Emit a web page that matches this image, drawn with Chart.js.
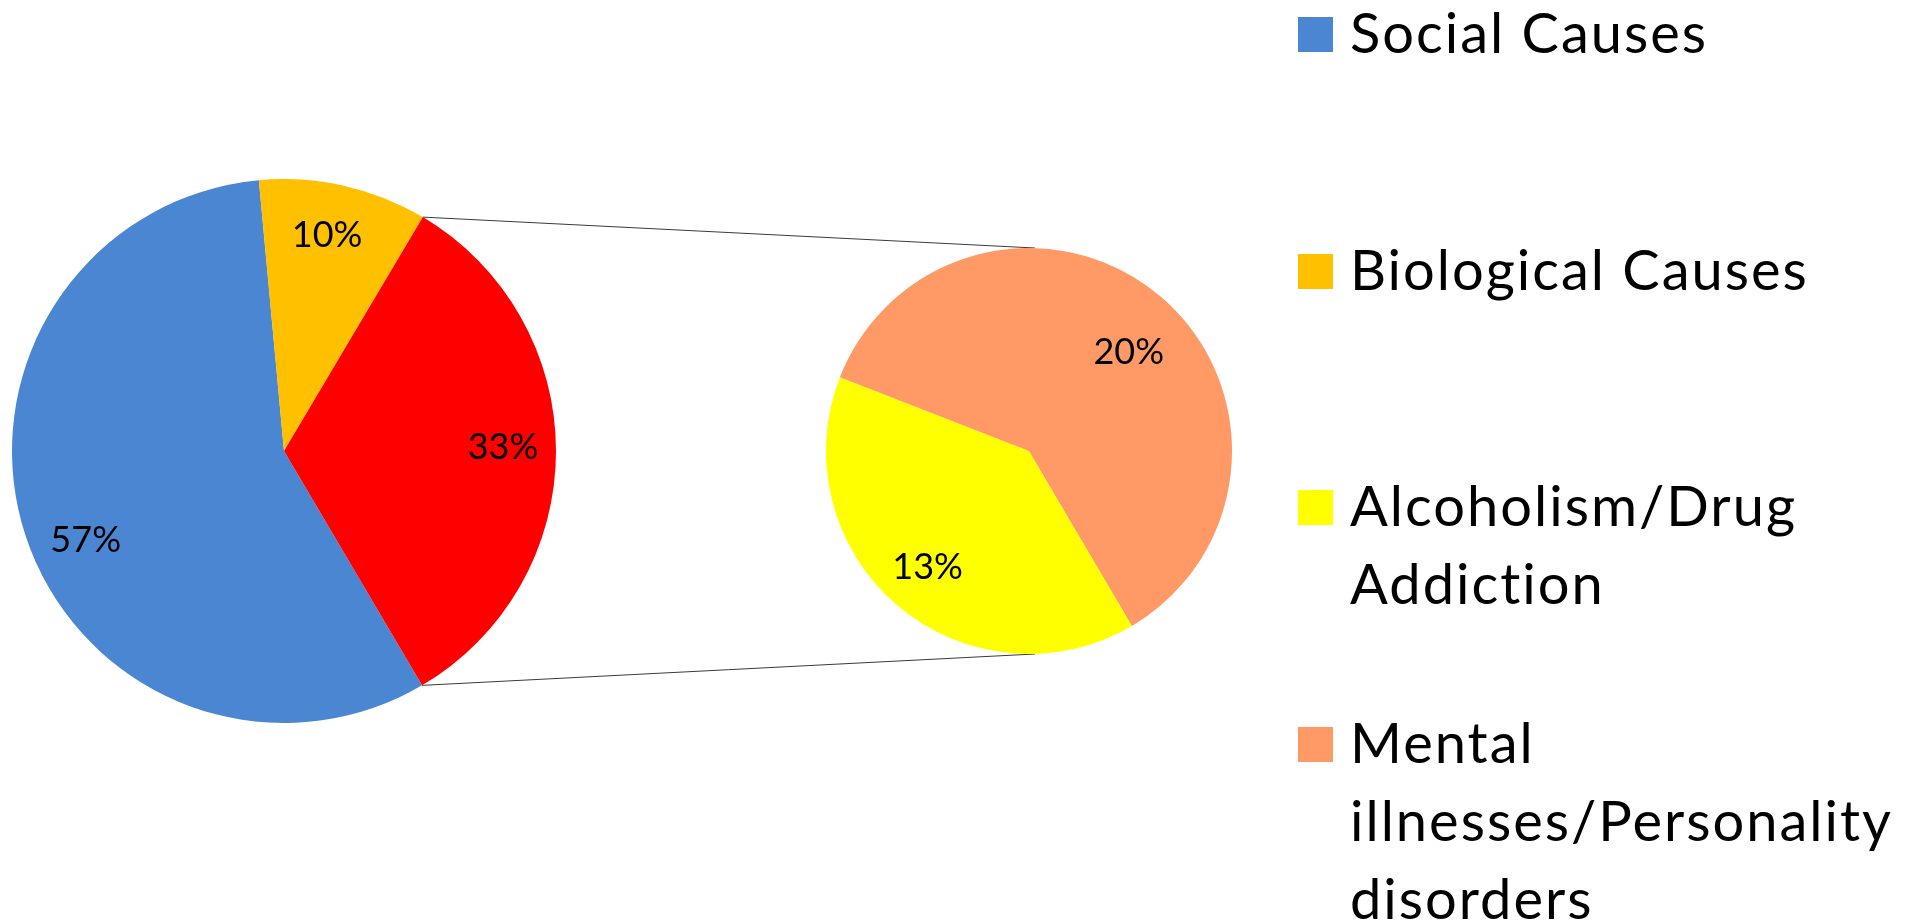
<!DOCTYPE html>
<html>
<head>
<meta charset="utf-8">
<title>Causes</title>
<script src="https://cdn.jsdelivr.net/npm/chart.js@4.4.1/dist/chart.umd.min.js"></script>
<style>
  html, body { margin: 0; padding: 0; background: #fff; }
  body { width: 1912px; height: 924px; position: relative; overflow: hidden; font-family: Lato, "Open Sans", sans-serif; }
  #mainBox { position: absolute; left: 12px; top: 179px; width: 544px; height: 544px; }
  #subBox { position: absolute; left: 826px; top: 248px; width: 406px; height: 406px; }
  #links { position: absolute; left: 0; top: 0; pointer-events: none; }
  #legend { position: absolute; left: 1298px; top: 0; }
  .item { position: absolute; left: 0; padding-left: 52px; font-size: 56px; line-height: 78px; letter-spacing: 2px; color: #000; white-space: nowrap; }
  .item .sw { position: absolute; left: 0; top: 24px; width: 35px; height: 35px; }
</style>
</head>
<body>
<canvas id="links" width="1912" height="924"></canvas>
<div id="mainBox"><canvas id="mainPie"></canvas></div>
<div id="subBox"><canvas id="subPie"></canvas></div>
<div id="legend"></div>

<script>
// main pie: the last slice is broken out into the small pie
const mainLabels = ['Social Causes', 'Biological Causes', 'Other'];
const mainValues = [57, 10, 33];
const mainColors = ['#4A86D1', '#FFC000', '#FF0000'];

// small pie: breakdown of the 33%
const subLabels = ['Alcoholism/Drug Addiction', 'Mental illnesses/Personality disorders'];
const subValues = [13, 20];
const subColors = ['#FFFF00', '#FF9966'];

// legend entries (wrapped the same way as the labels on screen)
const legendLines = [
  ['Social Causes'],
  ['Biological Causes'],
  ['Alcoholism/Drug', 'Addiction'],
  ['Mental', 'illnesses/Personality', 'disorders']
];
const legendColors = [mainColors[0], mainColors[1], subColors[0], subColors[1]];

const START_ANGLE = 149.5;

// percent labels inside each slice; `place` nudges each label off the
// slice's mid angle (degrees) and sets its distance as a share of the radius
const pctLabels = {
  id: 'pctLabels',
  afterDatasetsDraw(chart, args, opts) {
    const ctx = chart.ctx;
    const meta = chart.getDatasetMeta(0);
    const values = chart.data.datasets[0].data;
    const place = opts.place || [];
    ctx.save();
    ctx.font = '36px Lato, "Open Sans", sans-serif';
    ctx.fillStyle = '#000';
    ctx.textAlign = 'center';
    ctx.textBaseline = 'middle';
    meta.data.forEach((arc, i) => {
      const p = arc.getProps(['x', 'y', 'startAngle', 'endAngle', 'outerRadius'], true);
      const pl = place[i] || { turn: 0, r: 0.78 };
      const mid = (p.startAngle + p.endAngle) / 2 + pl.turn * Math.PI / 180;
      const r = p.outerRadius * pl.r;
      ctx.fillText(values[i] + '%', p.x + Math.cos(mid) * r, p.y + Math.sin(mid) * r);
    });
    ctx.restore();
  }
};

function pieOptions(place) {
  return {
    responsive: true,
    maintainAspectRatio: false,
    animation: false,
    rotation: START_ANGLE,
    layout: { padding: 0 },
    plugins: {
      legend: { display: false },
      tooltip: { enabled: false },
      pctLabels: { place: place }
    }
  };
}

const mainChart = new Chart(document.getElementById('mainPie'), {
  type: 'pie',
  data: {
    labels: mainLabels,
    datasets: [{ data: mainValues, backgroundColor: mainColors, borderWidth: 0 }]
  },
  options: pieOptions([
    { turn: -6.4, r: 0.80 },
    { turn: -1.4, r: 0.81 },
    { turn: -1, r: 0.805 }
  ]),
  plugins: [pctLabels]
});

const subChart = new Chart(document.getElementById('subPie'), {
  type: 'pie',
  data: {
    labels: subLabels,
    datasets: [{ data: subValues, backgroundColor: subColors, borderWidth: 0 }]
  },
  options: pieOptions([
    { turn: 0.7, r: 0.76 },
    { turn: 5, r: 0.69 }
  ]),
  plugins: [pctLabels]
});

// connector lines from the broken-out slice to the top/bottom of the small pie
function drawLinks() {
  const cv = document.getElementById('links');
  const ctx = cv.getContext('2d');
  ctx.clearRect(0, 0, cv.width, cv.height);

  const mainOff = document.getElementById('mainBox').getBoundingClientRect();
  const subOff = document.getElementById('subBox').getBoundingClientRect();

  const other = mainChart.getDatasetMeta(0).data[mainValues.length - 1];
  const o = other.getProps(['x', 'y', 'startAngle', 'endAngle', 'outerRadius'], true);
  const sub = subChart.getDatasetMeta(0).data[0].getProps(['x', 'y', 'outerRadius'], true);

  const from = [o.startAngle, o.endAngle].map(a => ({
    x: mainOff.left + o.x + Math.cos(a) * o.outerRadius,
    y: mainOff.top + o.y + Math.sin(a) * o.outerRadius
  }));
  const to = [-1, 1].map(s => ({
    x: subOff.left + sub.x + 6,
    y: subOff.top + sub.y + s * sub.outerRadius
  }));

  ctx.strokeStyle = '#3a3a3a';
  ctx.lineWidth = 1;
  for (let i = 0; i < 2; i++) {
    ctx.beginPath();
    ctx.moveTo(from[i].x, from[i].y);
    ctx.lineTo(to[i].x, to[i].y);
    ctx.stroke();
  }
}

function renderLegend() {
  const box = document.getElementById('legend');
  const step = 236.7;
  legendLines.forEach((lines, i) => {
    const el = document.createElement('div');
    el.className = 'item';
    el.style.top = (-7 + step * i) + 'px';
    const sw = document.createElement('span');
    sw.className = 'sw';
    sw.style.background = legendColors[i];
    el.appendChild(sw);
    lines.forEach((t, j) => {
      if (j > 0) el.appendChild(document.createElement('br'));
      el.appendChild(document.createTextNode(t));
    });
    box.appendChild(el);
  });
}

renderLegend();
drawLinks();
</script>
</body>
</html>
